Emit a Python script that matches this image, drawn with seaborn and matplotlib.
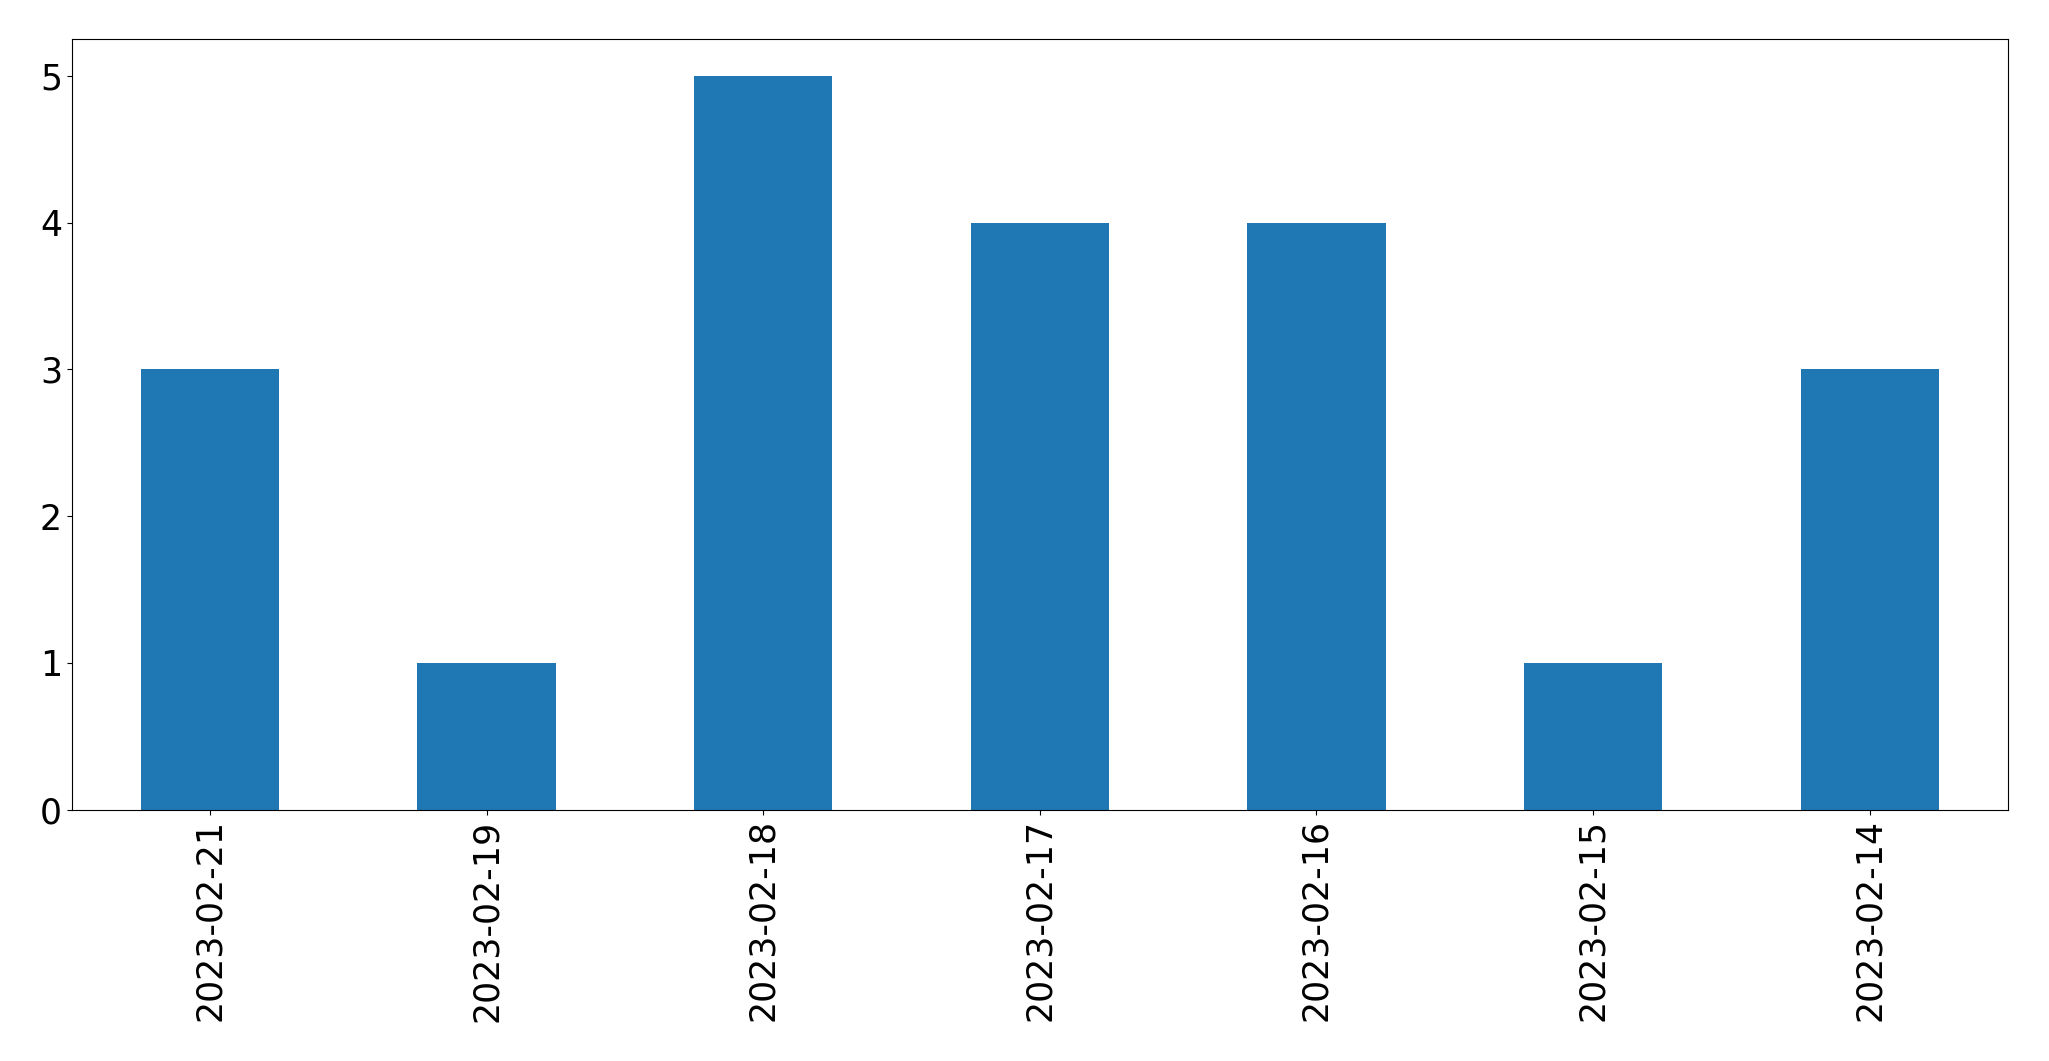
import matplotlib
matplotlib.use("Agg")
import matplotlib.pyplot as plt
import seaborn as sns

# --- data ---
dates = ["2023-02-21", "2023-02-19", "2023-02-18", "2023-02-17",
         "2023-02-16", "2023-02-15", "2023-02-14"]
counts = [3, 1, 5, 4, 4, 1, 3]

fig, ax = plt.subplots(figsize=(20.49, 10.61), dpi=100)
sns.barplot(x=dates, y=counts, color="#1f77b4", saturation=1, width=0.5, ax=ax)

ax.set_xlim(-0.5, len(dates) - 0.5)
ax.tick_params(axis="both", labelsize=25)
ax.tick_params(axis="x", labelrotation=90)
ax.set_xlabel("")
ax.set_ylabel("")

fig.subplots_adjust(left=0.035, right=0.98, top=0.963, bottom=0.237)
fig.savefig("out.png", dpi=100)
